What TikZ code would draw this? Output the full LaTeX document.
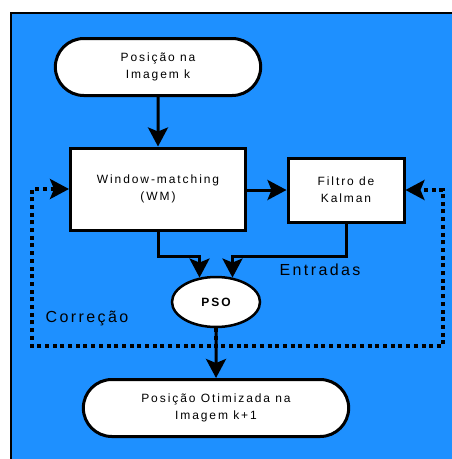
\documentclass[tikz,border=0pt]{standalone}
\usepackage{fontspec}
\setmainfont{Liberation Sans}
\newfontfamily\boxfont{Liberation Sans}[LetterSpace=16]
\newfontfamily\notefont{Liberation Sans}[LetterSpace=15]
\usetikzlibrary{shapes.misc,shapes.geometric,arrows.meta}
\definecolor{panelblue}{RGB}{30,144,255}

\begin{document}
\begin{tikzpicture}[x=1pt, y=-1pt,
    terminal/.style={rounded rectangle, draw, fill=white, line width=3pt,
                     align=center, font=\boxfont\fontsize{12}{17}\selectfont},
    procbox/.style={rectangle, draw, fill=white, line width=3pt,
                    align=center, font=\boxfont\fontsize{12}{17}\selectfont},
    flow/.style={line width=3pt, -{Stealth[length=19pt, width=20pt, inset=4pt]}},
    feedback/.style={flow, line width=3.5pt, dash pattern=on 4pt off 3.7pt},
    note/.style={font=\notefont\fontsize{16}{18}\selectfont}]
  \useasboundingbox (0,0) rectangle (452,459);
  % background panel
  \fill[panelblue, draw=black, line width=2pt] (11,13) rectangle (480,490);

  \node[terminal, minimum width=212pt, minimum height=57pt] (start) at (158,67)
    {Posição na\\Imagem k};
  \node[procbox, minimum width=175pt, minimum height=82pt] (wm) at (158,189)
    {Window-matching\\(WM)};
  \node[procbox, minimum width=116pt, minimum height=64pt] (kalman) at (346,190)
    {Filtro de\\Kalman};
  \node[ellipse, draw, fill=white, line width=2.5pt, minimum width=88pt,
        minimum height=50pt, font=\boxfont\fontsize{12}{14}\selectfont\bfseries] (pso) at (216,302) {PSO};
  \node[terminal, minimum width=272pt, minimum height=57pt] (final) at (216,408)
    {Posição Otimizada na\\Imagem k+1};

  \node[note] (inputs) at (320,270) {Entradas};
  \node[note] (fix) at (87,318) {Correção};

  \coordinate (loopL) at (32,346);
  \coordinate (loopR) at (443,346);

  \draw[flow] (start) -- (wm);
  \draw[flow] (wm.east |- kalman.west) -- (kalman.west);
  \draw[flow] (wm.south) -- ++(0,25) -| (pso.124);
  \draw[flow] (kalman.south) -- ++(0,33) -| (pso.56);
  \draw[flow] (pso) -- (final);
  \draw[feedback] (pso.south) |- (loopL) |- (wm.west);
  \draw[feedback] (pso.south) |- (loopR) |- (kalman.east);
\end{tikzpicture}
\end{document}
